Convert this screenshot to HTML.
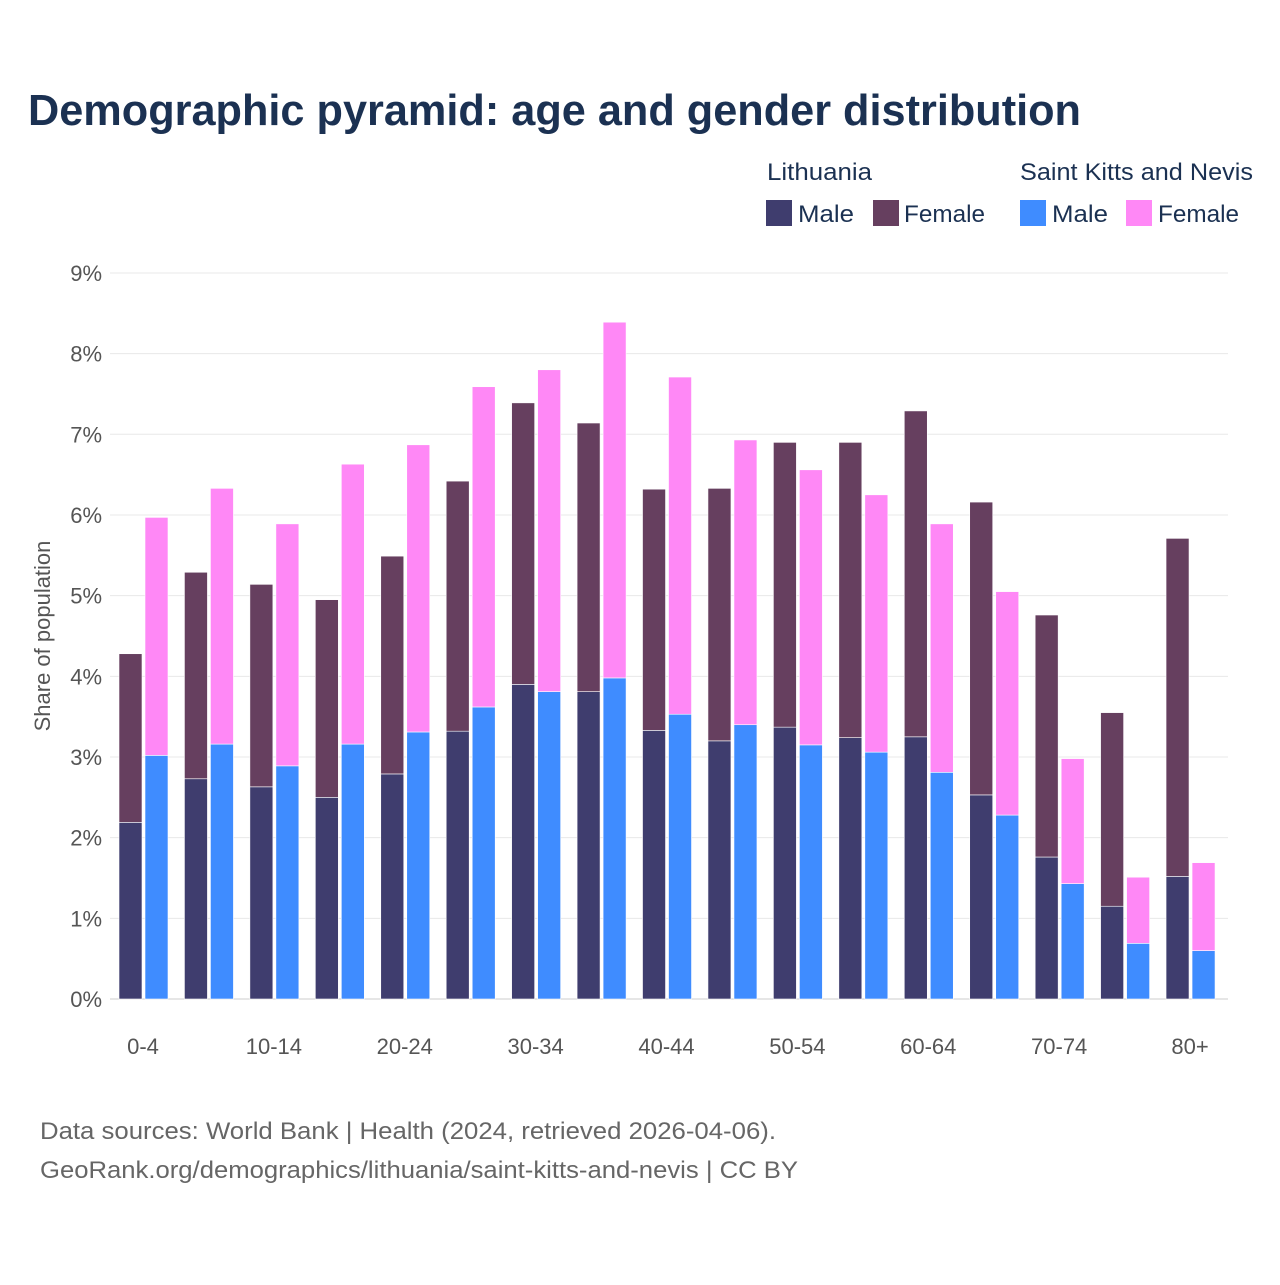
<!DOCTYPE html>
<html><head><meta charset="utf-8"><style>
body{margin:0;background:#fff;font-family:"Liberation Sans",sans-serif}
</style></head><body>
<svg width="1280" height="1280" viewBox="0 0 1280 1280" xmlns="http://www.w3.org/2000/svg">
<text x="28" y="125" font-size="44" font-weight="bold" fill="#1b3152" textLength="1053" lengthAdjust="spacingAndGlyphs">Demographic pyramid: age and gender distribution</text>
<g font-size="24" fill="#1b3152">
<text x="767" y="180" textLength="105" lengthAdjust="spacingAndGlyphs">Lithuania</text>
<text x="1020" y="180" textLength="233" lengthAdjust="spacingAndGlyphs">Saint Kitts and Nevis</text>
<rect x="766" y="200" width="26" height="26" fill="#3f3d6e"/>
<text x="798" y="222" textLength="56" lengthAdjust="spacingAndGlyphs">Male</text>
<rect x="873" y="200" width="26" height="26" fill="#663f5f"/>
<text x="904" y="222" textLength="81" lengthAdjust="spacingAndGlyphs">Female</text>
<rect x="1020" y="200" width="26" height="26" fill="#3f8cff"/>
<text x="1052" y="222" textLength="56" lengthAdjust="spacingAndGlyphs">Male</text>
<rect x="1126" y="200" width="26" height="26" fill="#ff88f6"/>
<text x="1158" y="222" textLength="81" lengthAdjust="spacingAndGlyphs">Female</text>
</g>
<g id="grid"></g>
<g id="bars"></g>
<g id="xlabels" font-size="22" fill="#555" text-anchor="middle"></g>
<text transform="translate(50,636) rotate(-90)" font-size="22" fill="#555" text-anchor="middle">Share of population</text>
<text x="40" y="1139" font-size="24" fill="#666" textLength="736" lengthAdjust="spacingAndGlyphs">Data sources: World Bank | Health (2024, retrieved 2026-04-06).</text>
<text x="40" y="1178" font-size="24" fill="#666" textLength="758" lengthAdjust="spacingAndGlyphs">GeoRank.org/demographics/lithuania/saint-kitts-and-nevis | CC BY</text>
</svg>
<script>
const categories=["0-4","5-9","10-14","15-19","20-24","25-29","30-34","35-39","40-44","45-49","50-54","55-59","60-64","65-69","70-74","75-79","80+"];
const ltMale=[2.19,2.73,2.63,2.50,2.79,3.32,3.90,3.81,3.33,3.20,3.37,3.24,3.25,2.53,1.76,1.15,1.52];
const ltTotal=[4.28,5.29,5.14,4.95,5.49,6.42,7.39,7.14,6.32,6.33,6.90,6.90,7.29,6.16,4.76,3.55,5.71];
const sknMale=[3.02,3.16,2.89,3.16,3.31,3.62,3.81,3.98,3.53,3.40,3.15,3.06,2.81,2.28,1.43,0.69,0.60];
const sknTotal=[5.97,6.33,5.89,6.63,6.87,7.59,7.80,8.39,7.71,6.93,6.56,6.25,5.89,5.05,2.98,1.51,1.69];
const yTicks=[0,1,2,3,4,5,6,7,8,9];
const NS="http://www.w3.org/2000/svg";
const y=v=>999-v*80.67;
const xc=i=>143+i*65.44;
function mk(t,a,p){const e=document.createElementNS(NS,t);for(const k in a)e.setAttribute(k,a[k]);p.appendChild(e);return e;}
const grid=document.getElementById('grid');
yTicks.forEach(t=>{
 const l=mk('line',{x1:110,x2:1228,y1:y(t),y2:y(t),stroke:t?'#e8e8e8':'#ccc','stroke-width':1},grid);
 
 
 const tx=mk('text',{x:102,y:y(t)+8,'font-size':22,fill:'#555','text-anchor':'end'},grid);
 tx.textContent=t+'%';
 
 
});
const bars=document.getElementById('bars');
function bar(x,v0,v1,c){
 return mk('rect',{x:x,y:y(v1),width:23,height:y(v0)-y(v1),fill:c,stroke:'#fff','stroke-width':0.6},bars);
}
categories.forEach((c,i)=>{
 const cx=xc(i);
 let r=bar(cx-24,0,ltMale[i],'#3f3d6e');
 
 
 r=bar(cx-24,ltMale[i],ltTotal[i],'#663f5f');
 
 
 r=bar(cx+2,0,sknMale[i],'#3f8cff');
 
 
 r=bar(cx+2,sknMale[i],sknTotal[i],'#ff88f6');
 
 
 if(i%2===0){
  const t=mk('text',{x:cx,y:1054},document.getElementById('xlabels'));
  t.textContent=c;
  
  
 }
});
</script>
</body></html>
